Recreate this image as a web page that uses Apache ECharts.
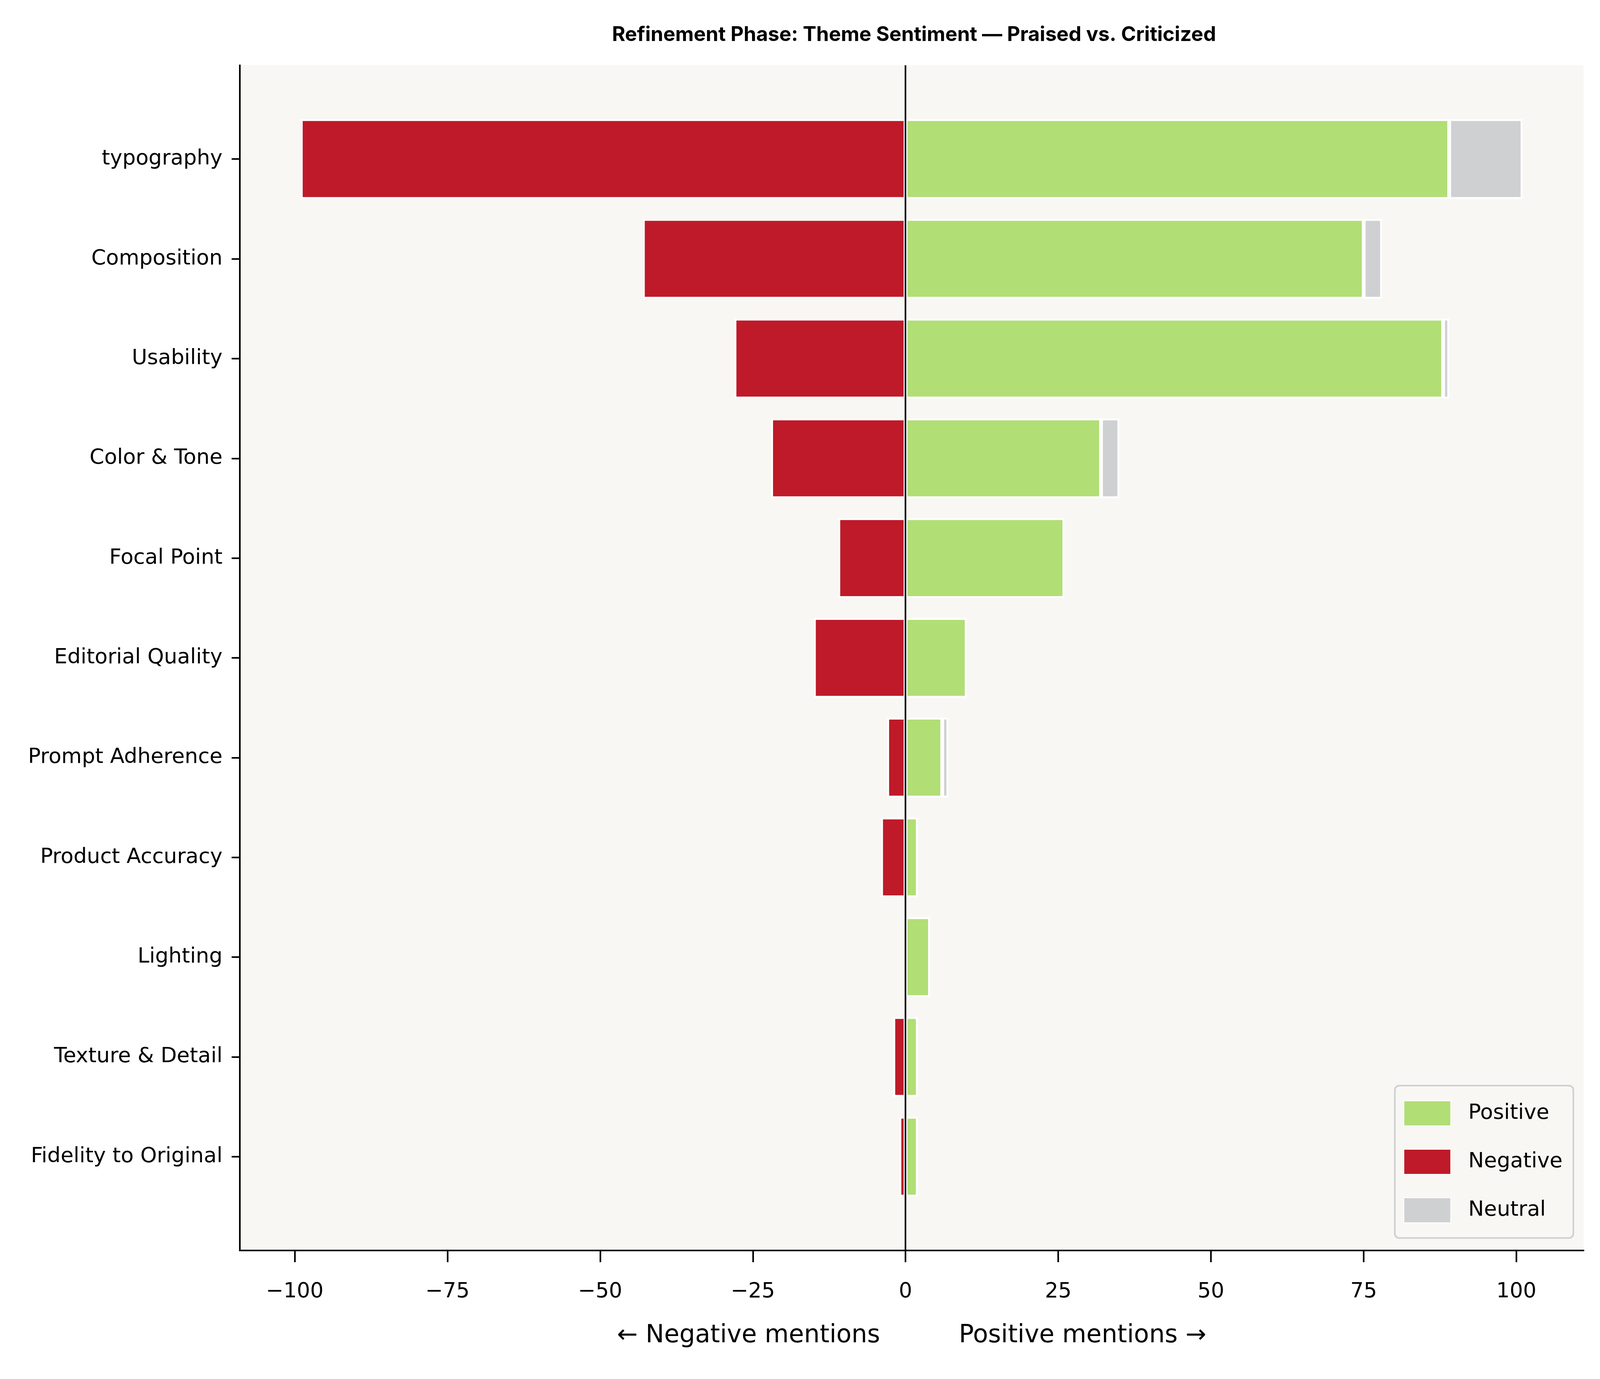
<!DOCTYPE html>
<html>

<head>
    <meta charset="utf-8">
    <title>Theme Sentiment</title>
    <style>
        html, body { margin: 0; padding: 0; background: #ffffff; overflow: hidden; }
        #chart { width: 100vw; height: 100vh; }
    </style>
</head>

<body>
    <div id="chart"></div>

    <script src="https://cdn.jsdelivr.net/npm/echarts@6/dist/echarts.min.js"></script>
    <script>
        // categories, top to bottom
        const themes = ['typography', 'Composition', 'Usability', 'Color & Tone', 'Focal Point',
            'Editorial Quality', 'Prompt Adherence', 'Product Accuracy', 'Lighting',
            'Texture & Detail', 'Fidelity to Original'];

        // mention counts
        const positive = [89, 75, 88, 32, 26, 10, 6, 2, 4, 2, 2];
        const negative = [-99, -43, -28, -22, -11, -15, -3, -4, 0, -2, -1];
        const neutral = [12, 3, 1, 3, 0, 0, 1, 0, 0, 0, 0];

        // x tick labels
        const xTicks = [-100, -75, -50, -25, 0, 25, 50, 75, 100];

        const chart = echarts.init(document.getElementById('chart'));
        // layout numbers are measured on the 5940 x 3530 picture, scaled to the window
        const kx = window.innerWidth / 5940;
        const ky = window.innerHeight / 3530;
        const X = v => v * kx;
        const Y = v => v * ky;
        const F = v => v * kx;
        const tickFont = 'DejaVu Sans';
        const xMin = -109, xMax = 111;

        // zero values are not drawn (no stray edge lines)
        const noZero = arr => arr.map(v => v === 0 ? null : v);

        const barStyle = color => ({
            color: color,
            borderColor: '#ffffff',
            borderWidth: X(7)
        });

        const option = {
            backgroundColor: '#ffffff',
            animation: false,
            title: {
                text: 'Refinement Phase: Theme Sentiment \u2014 Praised vs. Criticized',
                left: X(3386),
                top: Y(89) - F(75) * 0.6,
                textAlign: 'center',
                textStyle: {
                    fontFamily: 'Inter',
                    fontWeight: 700,
                    fontSize: F(75),
                    color: '#000000'
                }
            },
            legend: {
                orient: 'vertical',
                right: X(99),
                bottom: Y(361),
                data: ['Positive', 'Negative', 'Neutral'],
                icon: 'rect',
                itemWidth: X(174),
                itemHeight: Y(64),
                itemGap: Y(58),
                padding: [Y(38), X(40), Y(38), X(32)],
                backgroundColor: '#f8f7f4',
                borderColor: '#cfd0d2',
                borderWidth: X(6),
                borderRadius: X(16),
                textStyle: {
                    fontFamily: tickFont,
                    fontSize: F(78),
                    color: '#000000',
                    padding: [0, 0, 0, X(58)]
                }
            },
            grid: [
                // full plot area (background, spines, zero line)
                { left: X(890), right: X(61), top: Y(167), bottom: Y(329), show: true, backgroundColor: '#f8f7f4', borderWidth: 0 },
                // bars, inset so the category band matches the margins
                { left: X(890), right: X(61), top: Y(279.5), bottom: Y(441.5) }
            ],
            xAxis: [{
                type: 'value',
                gridIndex: 0,
                min: xMin,
                max: xMax,
                name: '\u2190 Negative mentions          Positive mentions \u2192',
                nameLocation: 'middle',
                nameGap: Y(219) - F(92) / 2,
                nameTextStyle: { fontFamily: tickFont, fontSize: F(92), color: '#000000' },
                axisLine: { show: true, onZero: false, lineStyle: { color: '#000000', width: X(6) } },
                axisTick: { show: true, length: Y(30), lineStyle: { color: '#000000', width: X(6) }, customValues: xTicks },
                axisLabel: {
                    fontFamily: tickFont,
                    fontSize: F(78),
                    color: '#000000',
                    margin: Y(106) - F(78) / 2,
                    customValues: xTicks,
                    formatter: v => String(v).replace('-', '\u2212')
                },
                splitLine: { show: false }
            }, {
                type: 'value',
                gridIndex: 1,
                min: xMin,
                max: xMax,
                axisLine: { show: false, onZero: false },
                show: false
            }],
            yAxis: [{
                type: 'value',
                gridIndex: 0,
                min: 0,
                max: 1,
                axisLine: { show: true, onZero: false, lineStyle: { color: '#000000', width: X(6) } },
                axisTick: { show: false },
                axisLabel: { show: false },
                splitLine: { show: false }
            }, {
                type: 'category',
                gridIndex: 1,
                inverse: true,
                data: themes,
                axisLine: { show: false, onZero: false },
                axisTick: { show: true, alignWithLabel: true, length: X(30), lineStyle: { color: '#000000', width: X(6) } },
                axisLabel: { fontFamily: tickFont, fontSize: F(78), color: '#000000', margin: X(64) },
                splitLine: { show: false }
            }],
            series: [{
                name: 'Positive',
                type: 'bar',
                xAxisIndex: 1,
                yAxisIndex: 1,
                stack: 'a',
                barWidth: '80%',
                itemStyle: barStyle('#b1de75'),
                data: noZero(positive)
            }, {
                name: 'Negative',
                type: 'bar',
                xAxisIndex: 1,
                yAxisIndex: 1,
                stack: 'a',
                barWidth: '80%',
                itemStyle: barStyle('#be1a29'),
                data: noZero(negative)
            }, {
                name: 'Neutral',
                type: 'bar',
                xAxisIndex: 1,
                yAxisIndex: 1,
                stack: 'a',
                barWidth: '80%',
                itemStyle: barStyle('#cfd0d2'),
                data: noZero(neutral)
            }, {
                // zero line across the whole plot height
                type: 'line',
                xAxisIndex: 0,
                yAxisIndex: 0,
                data: [],
                z: 10,
                markLine: {
                    silent: true,
                    symbol: ['none', 'none'],
                    label: { show: false },
                    lineStyle: { color: '#000000', width: X(6), type: 'solid' },
                    data: [{ xAxis: 0 }]
                }
            }]
        };

        chart.setOption(option);
    </script>
</body>

</html>
